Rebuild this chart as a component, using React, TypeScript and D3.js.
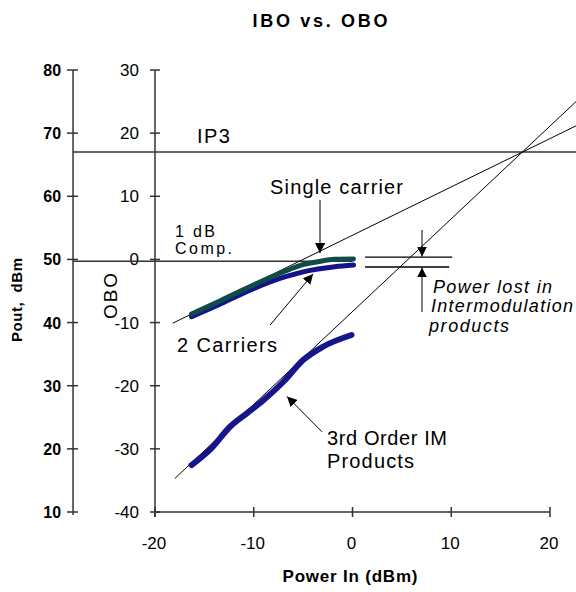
import React from 'react';
import * as d3 from 'd3';

// ---- data ----
const xTicks = [-20, -10, 0, 10, 20];
const oboTicks = [30, 20, 10, 0, -10, -20, -30, -40];
const poutTicks = [80, 70, 60, 50, 40, 30, 20, 10];

const singleCarrierIn = [-16.3, -13.6, -10.2, -6.8, -5.2, -3.5, -1.8, 0.1];
const singleCarrierOut = [-8.65, -6.7, -4.17, -1.84, -0.89, -0.36, 0.02, 0.06];

const twoCarrierIn = [-16.3, -13.6, -10.2, -6.8, -5.2, -3.5, -1.8, 0.1];
const twoCarrierOut = [-9.07, -7.22, -4.74, -2.74, -2.04, -1.52, -1.16, -0.89];

const imIn = [-16.3, -14.3, -12.4, -10.7, -9.0, -7.0, -5.0, -3.0, -0.1];
const imOut = [-32.56, -29.92, -26.5, -24.37, -22.27, -19.37, -15.93, -13.83, -11.97];

// straight reference lines (Power In, OBO) endpoints
const fundamentalLine: [number, number][] = [[-18.2, -10.1], [24, 22.2]];
const imLine: [number, number][] = [[-18, -34.7], [24, 27.0]];
const ip3Level = 17.0;
const compLevel = -0.3;
const poutOffset = 50; // Pout = OBO + 50

// power lost markers
const lostLevels = [0.38, -1.2];
const lostRange: [number, number] = [1.27, 10.1];

// arrows: [fromIn, fromOut, toIn, toOut]
const arrows: [number, number, number, number][] = [
  [-3.29, 9.4, -3.29, 1.0],
  [-8.35, -10.4, -4.0, -2.3],
  [-3.09, -27.3, -6.63, -21.7],
  [7.04, 4.66, 7.04, 0.45],
  [7.04, -8.33, 7.04, -1.27],
];

export default function App() {
  const W = 576, H = 592;
  const x = d3.scaleLinear().domain([-20, 20]).range([155, 550]);
  const y = d3.scaleLinear().domain([-40, 30]).range([512, 70]);
  const poutAxisIn = -28.3;
  const xp = x(poutAxisIn);
  const font = "'Liberation Sans', Arial, sans-serif";

  const line = d3.line<[number, number]>()
    .x(d => x(d[0]))
    .y(d => y(d[1]))
    .curve(d3.curveMonotoneX);
  const straight = d3.line<[number, number]>().x(d => x(d[0])).y(d => y(d[1]));

  const sc = singleCarrierIn.map((v, i) => [v, singleCarrierOut[i]] as [number, number]);
  const tc = twoCarrierIn.map((v, i) => [v, twoCarrierOut[i]] as [number, number]);
  const im = imIn.map((v, i) => [v, imOut[i]] as [number, number]);

  const axisColor = '#333';

  return (
    <svg width={W} height={H} style={{ position: 'absolute', left: 0, top: 0, background: '#fff' }}
      fontFamily={font}>
      <defs>
        <marker id="ah" markerUnits="userSpaceOnUse" markerWidth="10" markerHeight="10"
          viewBox="0 0 10 10" refX="10" refY="5" orient="auto">
          <path d="M0,0 L10,5 L0,10 Z" fill="#000" />
        </marker>
      </defs>
      <rect width={W} height={H} fill="#fff" />

      {/* title */}
      <text x={320} y={27} textAnchor="middle" fontWeight="bold" fontSize={18}
        textLength={135} lengthAdjust="spacing">IBO vs. OBO</text>

      {/* Pout axis */}
      <line x1={xp} x2={xp} y1={y(30)} y2={y(-40) + 3} stroke={axisColor} strokeWidth={1.5} />
      {poutTicks.map(t => (
        <g key={'p' + t}>
          <line x1={xp - 6} x2={xp + 5} y1={y(t - poutOffset)} y2={y(t - poutOffset)} stroke={axisColor} strokeWidth={1.5} />
          <text x={xp - 12} y={y(t - poutOffset) + 6} textAnchor="end" fontWeight="bold" fontSize={16}>{t}</text>
        </g>
      ))}
      <text transform={`translate(22,300) rotate(-90)`} textAnchor="middle" fontWeight="bold" fontSize={15}
        textLength={84} lengthAdjust="spacing" style={{ whiteSpace: 'pre' }}>{'Pout,  dBm'}</text>

      {/* OBO axis */}
      <line x1={x(-20)} x2={x(-20)} y1={y(30)} y2={y(-40) + 5} stroke={axisColor} strokeWidth={1.5} />
      {oboTicks.map(t => (
        <g key={'o' + t}>
          <line x1={x(-20) - 5} x2={x(-20) + 5} y1={y(t)} y2={y(t)} stroke={axisColor} strokeWidth={1.5} />
          <text x={x(-20) - 16} y={y(t) + 6} textAnchor="end" fontSize={17}>{t}</text>
        </g>
      ))}
      <text transform={`translate(117,296) rotate(-90)`} textAnchor="middle" fontSize={19}
        textLength={46} lengthAdjust="spacing">OBO</text>

      {/* X axis */}
      <line x1={x(-20)} x2={x(20)} y1={y(-40)} y2={y(-40)} stroke={axisColor} strokeWidth={1.5} />
      {xTicks.map(t => (
        <g key={'x' + t}>
          <line x1={x(t)} x2={x(t)} y1={y(-40) - 5} y2={y(-40) + 5} stroke={axisColor} strokeWidth={1.5} />
          <text x={x(t) - 1} y={y(-40) + 37} textAnchor="middle" fontSize={17}>{t}</text>
        </g>
      ))}
      <text x={350} y={582} textAnchor="middle" fontWeight="bold" fontSize={17}
        textLength={135} lengthAdjust="spacing">Power In (dBm)</text>

      {/* horizontal reference lines */}
      <line x1={xp} x2={W} y1={y(ip3Level)} y2={y(ip3Level)} stroke={axisColor} strokeWidth={1.5} />
      <line x1={xp} x2={x(0)} y1={y(compLevel)} y2={y(compLevel)} stroke={axisColor} strokeWidth={1.5} />

      {/* straight lines */}
      <path d={straight(fundamentalLine) || ''} fill="none" stroke="#000" strokeWidth={1} />
      <path d={straight(imLine) || ''} fill="none" stroke="#000" strokeWidth={1} />

      {/* curves */}
      <path d={line(tc) || ''} fill="none" stroke="#14148a" strokeWidth={5} strokeLinecap="round" />
      <path d={line(sc) || ''} fill="none" stroke="#0f4c48" strokeWidth={5} strokeLinecap="round" />
      <path d={line(im) || ''} fill="none" stroke="#16168c" strokeWidth={6} strokeLinecap="round" />

      {/* power lost markers */}
      {lostLevels.map((l, i) => (
        <line key={'l' + i} x1={x(lostRange[0])} x2={x(lostRange[1]) - i * 3} y1={y(l)} y2={y(l)}
          stroke="#000" strokeWidth={1.3} />
      ))}

      {/* arrows */}
      {arrows.map((a, i) => (
        <line key={'a' + i} x1={x(a[0])} y1={y(a[1])} x2={x(a[2])} y2={y(a[3])}
          stroke="#000" strokeWidth={1} markerEnd="url(#ah)" />
      ))}

      {/* annotations */}
      <text x={x(-15.75)} y={y(18.4)} fontSize={20} textLength={33} lengthAdjust="spacing">IP3</text>
      <text x={x(-8.35)} y={y(10.36)} fontSize={20} textLength={133} lengthAdjust="spacing">Single carrier</text>
      <text x={x(-17.97)} y={y(3.55)} fontSize={16} textLength={40} lengthAdjust="spacing">1 dB</text>
      <text x={x(-17.97)} y={y(0.86)} fontSize={16} textLength={57} lengthAdjust="spacing">Comp.</text>
      <text x={x(-17.77)} y={y(-14.67)} fontSize={20} textLength={100} lengthAdjust="spacing">2 Carriers</text>
      <text x={x(-2.58)} y={y(-29.4)} fontSize={20} textLength={120} lengthAdjust="spacing">3rd Order IM</text>
      <text x={x(-2.58)} y={y(-33.0)} fontSize={20} textLength={87} lengthAdjust="spacing">Products</text>
      <text x={x(8.15)} y={y(-5.32)} fontSize={18} fontStyle="italic" textLength={119} lengthAdjust="spacing">Power lost in</text>
      <text x={x(7.95)} y={y(-8.33)} fontSize={18} fontStyle="italic" textLength={142} lengthAdjust="spacing">Intermodulation</text>
      <text x={x(7.75)} y={y(-11.5)} fontSize={18} fontStyle="italic" textLength={80} lengthAdjust="spacing">products</text>
    </svg>
  );
}
